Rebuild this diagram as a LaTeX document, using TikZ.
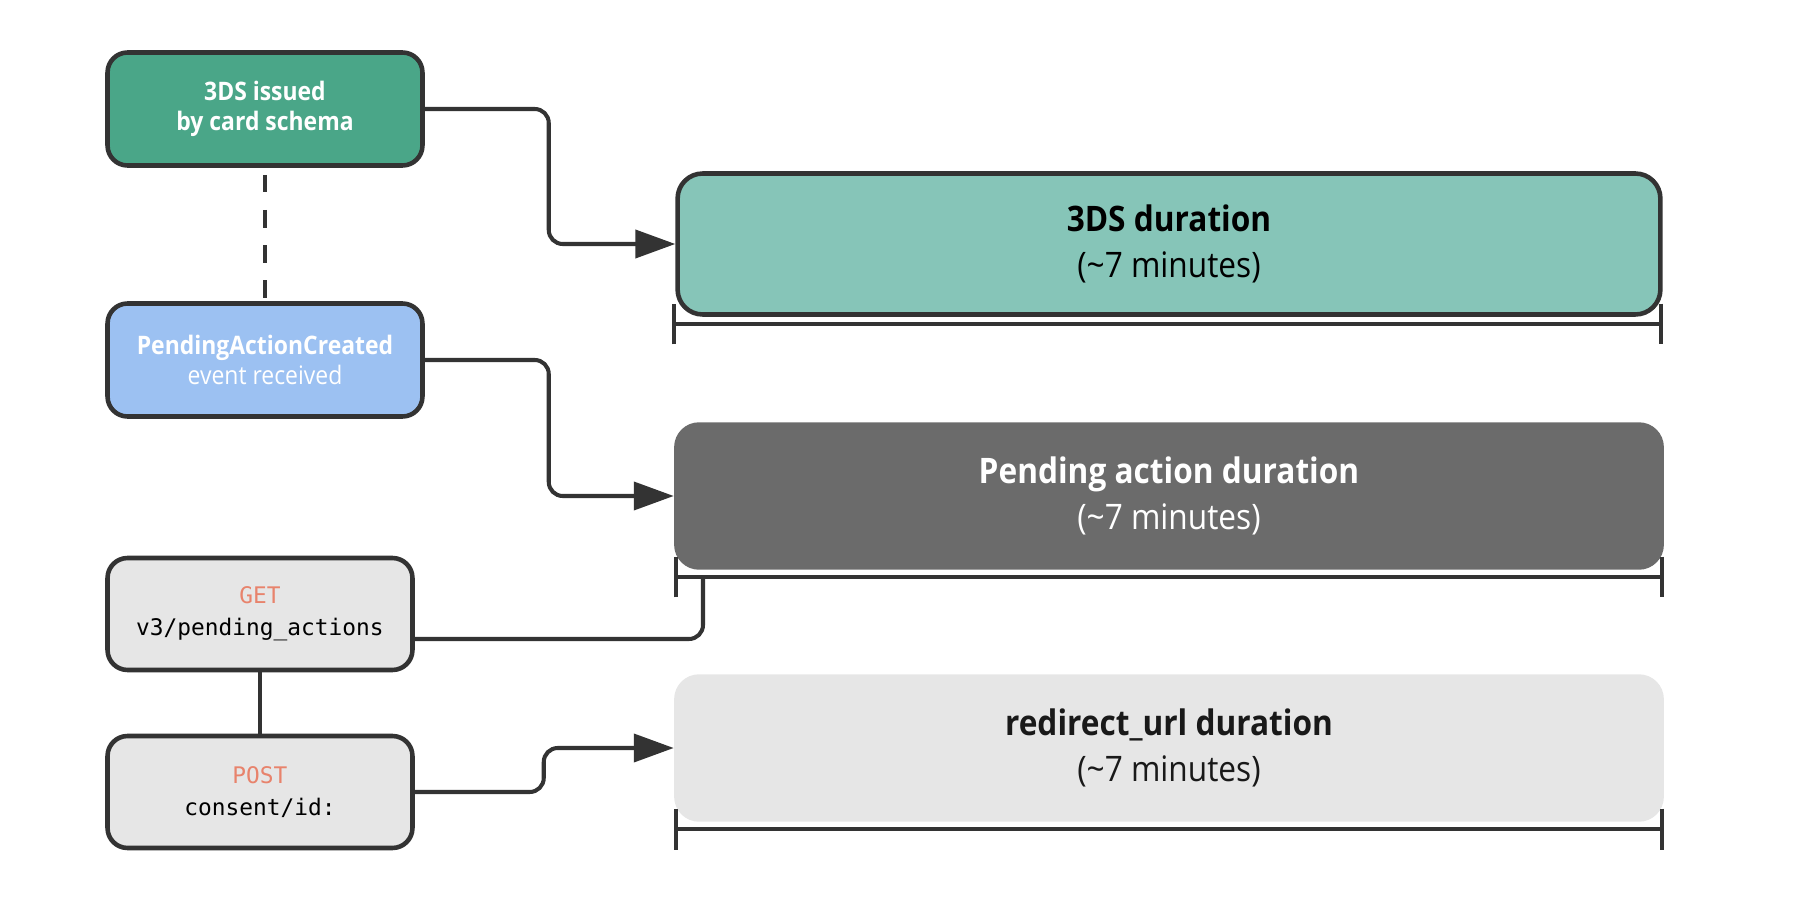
\documentclass[tikz,border=0pt]{standalone}
\usepackage{fontspec}
\setmainfont{Open Sans}[FakeStretch=0.9]
\setmonofont{DejaVu Sans Mono}
\usepackage{xcolor}
\usetikzlibrary{arrows.meta}

\definecolor{ink}{HTML}{333333}
\definecolor{issuegreen}{HTML}{4AA688}
\definecolor{windowgreen}{HTML}{86C5B8}
\definecolor{eventblue}{HTML}{9CC1F2}
\definecolor{callgray}{HTML}{E6E6E6}
\definecolor{pendgray}{HTML}{6B6B6B}
\definecolor{verbred}{HTML}{E8836C}

\begin{document}
\begin{tikzpicture}[x=0.02cm,y=-0.02cm]

% ---------- common style ----------
\tikzstyle{event}=[draw=ink,line width=2.6pt,rounded corners=0.4cm,minimum width=6.3cm,minimum height=2.26cm,align=center,inner sep=0pt,font=\fontsize{14.5}{17.5}\selectfont]
\tikzstyle{call}=[event,fill=callgray,minimum width=6.1cm,minimum height=2.24cm,font=\fontsize{13}{18}\ttfamily]
\tikzstyle{window}=[rounded corners=0.5cm,minimum width=19.8cm,minimum height=2.95cm,align=center,inner sep=0pt,font=\fontsize{20}{26}\selectfont]
\tikzstyle{link}=[draw=ink,line width=2.3pt,rounded corners=0.28cm]
\tikzstyle{arr}=[link,-{Triangle[length=0.8cm,width=0.56cm]}]
\tikzstyle{span}=[draw=ink,line width=2.5pt,{Bar[width=0.82cm]}-{Bar[width=0.82cm]}]

\useasboundingbox (0,0) rectangle (1816,922);

% ================== left: events and calls ==================
\node[event,fill=issuegreen,text=white] (issued) at (265,109)
      {\textbf{3DS issued}\\\textbf{by card schema}};
\node[event,fill=eventblue,text=white] (pending) at (265,360)
      {\textbf{PendingActionCreated}\\event received};
\node[call] (get) at (260,614)
      {\textcolor{verbred}{GET}\\v3/pending\_actions};
\node[call] (post) at (260,792)
      {\textcolor{verbred}{POST}\\consent/id:};

% ================== right: duration windows ==================
\node[window,draw=ink,line width=2.6pt,fill=windowgreen,minimum width=19.66cm,minimum height=2.82cm] (win3ds) at (1169,244)
      {\textbf{3DS duration}\\(\textasciitilde 7 minutes)};
\node[window,fill=pendgray,text=white] (winpending) at (1169,496)
      {\textbf{Pending action duration}\\(\textasciitilde 7 minutes)};
\node[window,fill=callgray,text=black!90] (winredirect) at (1169,748)
      {\textbf{redirect\_url duration}\\(\textasciitilde 7 minutes)};

% spans under the windows
\coordinate (s1l) at (672,324);
\coordinate (s1r) at (1663,324);
\coordinate (s2l) at (674,577);
\coordinate (s2r) at (1664,577);
\coordinate (s3l) at (674,829);
\coordinate (s3r) at (1664,829);
\draw[span] (s1l) -- (s1r);
\draw[span] (s2l) -- (s2r);
\draw[span] (s3l) -- (s3r);

% tap point of the GET call on the pending span
\coordinate (tapget) at (703,577);

% ================== connectors ==================
\draw[link,dashed,dash pattern=on 10pt off 10pt,shorten <=4pt] (issued.south) -- (pending.north);
\draw[link] (get.south) -- (post.north);

\draw[arr] (issued.east) -- ++(124,0) |- (win3ds.west);
\draw[arr] (pending.east) -- ++(124,0) |- (winpending.west);
\draw[link] ([yshift=-0.5cm]get.east) -| (tapget);
\draw[arr] (post.east) -- ++(129,0) |- (winredirect.west);

\end{tikzpicture}
\end{document}
